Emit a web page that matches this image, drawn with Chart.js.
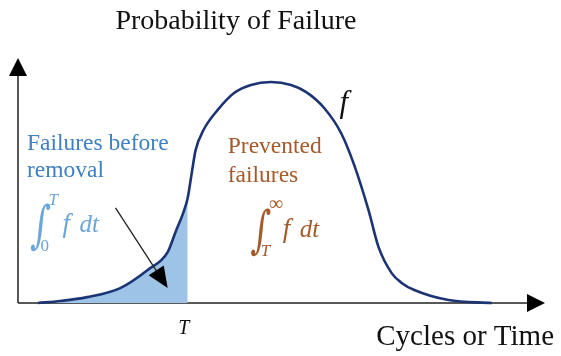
<!DOCTYPE html>
<html><head><meta charset="utf-8">
<script src="https://cdn.jsdelivr.net/npm/chart.js@4/dist/chart.umd.min.js"></script>
<style>html,body{margin:0;padding:0;background:#fff;overflow:hidden}#wrap{width:561px;height:356px;position:relative}</style>
</head><body><div id="wrap"><canvas id="c" width="561" height="356"></canvas></div>
<script>
// Time (cycles) values along the x axis
const timeValues = [0.38, 0.80, 1.31, 1.94, 2.46, 2.84, 2.99, 3.14, 3.22, 3.30, 3.37, 3.52, 3.79, 4.10, 4.42, 4.80, 5.18, 5.47, 5.81, 6.13, 6.38, 6.65, 6.84, 7.09, 7.28, 7.52, 8.17, 8.99];
// Failure probability density f at each time
const densityValues = [0.000, 0.008, 0.024, 0.061, 0.135, 0.208, 0.290, 0.371, 0.429, 0.535, 0.624, 0.706, 0.788, 0.857, 0.890, 0.902, 0.890, 0.861, 0.796, 0.694, 0.563, 0.380, 0.229, 0.122, 0.082, 0.053, 0.012, 0.000];
// Removal time T
const removalTime = 3.22;
// Axis ranges
const xRange = [0, 10];
const yRange = [0, 1];
// Text labels
const titleText = 'Probability of Failure';
const xAxisText = 'Cycles or Time';
const tickLabels = ['T'];
const curveLabel = 'f';
const beforeLines = ['Failures before', 'removal'];
const preventedLines = ['Prevented', 'failures'];

const curvePts = timeValues.map((t, i) => ({x: t, y: densityValues[i]}));
const shadedPts = curvePts.filter(p => p.x <= removalTime);

const serif = '"Liberation Serif", "Times New Roman", serif';
const mathFont = '"DejaVu Serif", serif';

function integral(ctx, x, y, upper, lower, color) {
  // x,y : pixel anchor (left of integral sign, baseline of "f dt")
  ctx.save();
  ctx.fillStyle = color;
  ctx.textBaseline = 'alphabetic';
  ctx.textAlign = 'left';
  ctx.save();
  ctx.translate(x + 2, y + 10);
  ctx.transform(1, 0, -0.12, 1.5, 0, 0);
  ctx.font = '34px ' + mathFont;
  ctx.fillText('\u222B', 0, 0);
  ctx.restore();
  ctx.font = (upper === 'T' ? 'italic 17px ' : '20px ') + serif;
  ctx.fillText(upper, x + 20, y - 27);
  ctx.font = (lower === 'T' ? 'italic 17px ' : '17px ') + serif;
  ctx.fillText(lower, x + 12, y + 19);
  ctx.font = 'italic 27px ' + serif;
  ctx.fillText('f', x + 34, y);
  ctx.font = 'italic 25px ' + serif;
  ctx.fillText('dt', x + 51, y);
  ctx.restore();
}

const decor = {
  id: 'decor',
  beforeDatasetsDraw(chart) {
    const {ctx, scales: {x, y}} = chart;
    const x0 = x.getPixelForValue(xRange[0]);
    const x1 = x.getPixelForValue(xRange[1]);
    const y0 = y.getPixelForValue(yRange[0]);
    const y1 = y.getPixelForValue(yRange[1]);
    ctx.save();
    ctx.strokeStyle = '#222';
    ctx.fillStyle = '#000';
    ctx.lineWidth = 1.5;
    ctx.beginPath();
    ctx.moveTo(x0, y0); ctx.lineTo(x1 - 14, y0);
    ctx.moveTo(x0, y0); ctx.lineTo(x0, y1 + 14);
    ctx.stroke();
    ctx.beginPath();
    ctx.moveTo(x1, y0); ctx.lineTo(x1 - 18, y0 - 9); ctx.lineTo(x1 - 18, y0 + 9); ctx.closePath(); ctx.fill();
    ctx.beginPath();
    ctx.moveTo(x0, y1); ctx.lineTo(x0 - 9, y1 + 18); ctx.lineTo(x0 + 9, y1 + 18); ctx.closePath(); ctx.fill();
    ctx.restore();
  },
  afterDatasetsDraw(chart) {
    const {ctx, scales: {x, y}} = chart;
    const px = v => x.getPixelForValue(v);
    const py = v => y.getPixelForValue(v);
    ctx.save();
    ctx.fillStyle = '#111';
    ctx.font = '28px ' + serif;
    ctx.textAlign = 'center';
    ctx.textBaseline = 'alphabetic';
    ctx.fillText(titleText, 236, 29);
    ctx.textAlign = 'right';
    ctx.font = '29px ' + serif;
    ctx.fillText(xAxisText, 554, 345);
    ctx.textAlign = 'center';
    ctx.font = 'italic 20px ' + serif;
    ctx.fillText(tickLabels[0], px(removalTime) - 4, 334);
    ctx.font = 'italic 31px ' + serif;
    ctx.textAlign = 'left';
    ctx.fillText(curveLabel, px(6.1), py(0.78));
    ctx.font = '23.5px ' + serif;
    ctx.fillStyle = '#3f80c2';
    ctx.fillText(beforeLines[0], px(0.17), py(0.624));
    ctx.fillText(beforeLines[1], px(0.17), py(0.514));
    integral(ctx, px(0.2), py(0.29), 'T', '0', '#6aa6dc');
    ctx.font = '23.5px ' + serif;
    ctx.fillStyle = '#a45a2a';
    ctx.fillText(preventedLines[0], px(3.98), py(0.612));
    ctx.fillText(preventedLines[1], px(3.98), py(0.494));
    integral(ctx, px(4.38), py(0.269), '\u221E', 'T', '#a45a2a');
    // pointer arrow
    const ax0 = px(1.85), ay0 = py(0.388), ax1 = px(2.84), ay1 = py(0.061);
    const ang = Math.atan2(ay1 - ay0, ax1 - ax0);
    const c = Math.cos(ang), s = Math.sin(ang);
    ctx.strokeStyle = '#222';
    ctx.fillStyle = '#000';
    ctx.lineWidth = 1.3;
    ctx.beginPath();
    ctx.moveTo(ax0, ay0);
    ctx.lineTo(ax1 - 17 * c, ay1 - 17 * s);
    ctx.stroke();
    ctx.beginPath();
    ctx.moveTo(ax1, ay1);
    ctx.lineTo(ax1 - 21 * c + 9 * s, ay1 - 21 * s - 9 * c);
    ctx.lineTo(ax1 - 21 * c - 9 * s, ay1 - 21 * s + 9 * c);
    ctx.closePath();
    ctx.fill();
    ctx.restore();
  }
};

new Chart(document.getElementById('c'), {
  type: 'line',
  data: {
    datasets: [
      {
        label: 'f',
        data: curvePts,
        borderColor: '#1c3474',
        borderWidth: 2.6,
        pointRadius: 0,
        cubicInterpolationMode: 'monotone',
        fill: false,
        clip: false
      },
      {
        label: 'before removal',
        data: shadedPts,
        borderWidth: 0,
        borderColor: 'rgba(0,0,0,0)',
        backgroundColor: '#9dc3e6',
        pointRadius: 0,
        cubicInterpolationMode: 'monotone',
        fill: 'origin',
        clip: false
      }
    ]
  },
  options: {
    responsive: false,
    animation: false,
    layout: {padding: {left: 18, right: 16, top: 58, bottom: 53}},
    plugins: {legend: {display: false}, tooltip: {enabled: false}, title: {display: false}},
    scales: {
      x: {type: 'linear', min: xRange[0], max: xRange[1], display: false},
      y: {type: 'linear', min: yRange[0], max: yRange[1], display: false}
    }
  },
  plugins: [decor]
});
</script></body></html>
